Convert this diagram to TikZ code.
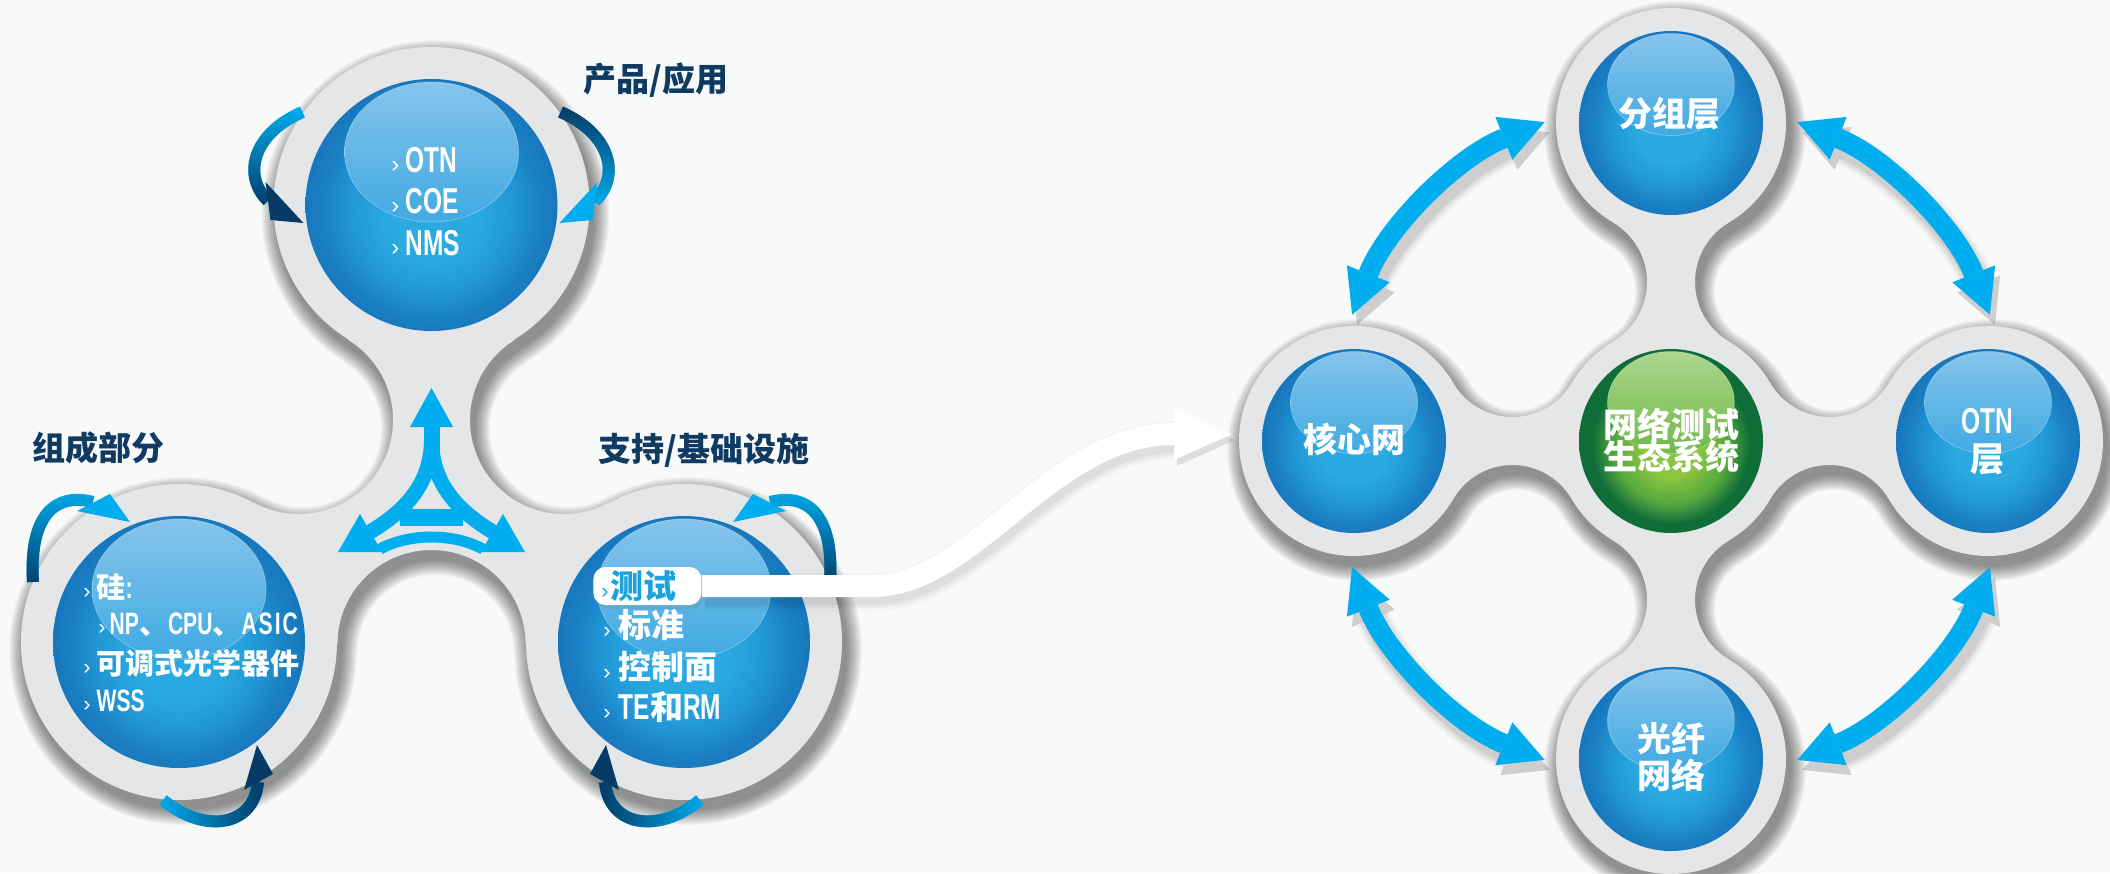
\documentclass[tikz,border=0pt]{standalone}
\usepackage{fontspec}
\newfontfamily\cjk{Noto Sans CJK SC}
\newfontfamily\cond{Liberation Sans}[UprightFont={* Bold}, BoldFont={* Bold}, FakeStretch=0.68]
\newfontfamily\chevf{Liberation Sans}
\usetikzlibrary{arrows.meta,fadings,shadows}

\definecolor{bgc}{HTML}{F8F9F9}
\definecolor{ringc}{HTML}{E5E6E8}
\definecolor{navyt}{HTML}{0F3A62}
\definecolor{cyanA}{HTML}{00AEEF}
\definecolor{navyA}{HTML}{053B66}
\definecolor{ballL}{HTML}{2AAAE1}
\definecolor{ballM}{HTML}{2196D5}
\definecolor{ballD}{HTML}{1A80C4}
\definecolor{ballE}{HTML}{1877BD}
\definecolor{grL}{HTML}{8CC540}
\definecolor{grM}{HTML}{55A83F}
\definecolor{grD}{HTML}{0F6D38}
\definecolor{hlT}{HTML}{86C4EB}
\definecolor{hlB}{HTML}{3FAAE2}
\definecolor{ghT}{HTML}{ADD68D}
\definecolor{ghB}{HTML}{6FB94A}
\definecolor{testc}{HTML}{1BA3DD}

\pgfdeclareradialshading{blueball}{\pgfpoint{0bp}{-2.5bp}}{color(0bp)=(ballL); color(9bp)=(ballL); color(16.5bp)=(ballM); color(21.5bp)=(ballD); color(25bp)=(ballE); color(32bp)=(ballE)}
\pgfdeclareradialshading{greenball}{\pgfpoint{0bp}{-3bp}}{color(0bp)=(grL); color(7.5bp)=(grL); color(15.5bp)=(grM); color(21.5bp)=(grD); color(32bp)=(grD)}

\newcommand{\zh}[2]{{\cjk\bfseries\fontsize{#1}{#1}\selectfont #2}}
\newcommand{\lat}[2]{{\cond\fontsize{#1}{#1}\selectfont #2}}
\newcommand{\chv}[1]{{\chevf\fontsize{#1}{#1}\selectfont ›}}

% left three-sphere blob, dilated by #1
\newcommand{\leftblob}[1]{%
 \begin{scope}[even odd rule]
  \clip (-100,100) rectangle (2300,-1000)
    (299,-420) circle[radius={94-#1}] (564,-420) circle[radius={94-#1}]
    (431.5,-644) circle[radius={94-#1}];
  \fill[nonzero rule] (431.5,-205) circle[radius={158+#1}] (179,-642) circle[radius={158+#1}]
    (684,-642) circle[radius={158+#1}]
    (431.5,-205) -- (299,-420) -- (179,-642) -- (431.5,-644) -- (684,-642) -- (564,-420) -- cycle;
 \end{scope}}
% right cross blob, dilated by #1
\newcommand{\rightblob}[1]{%
 \begin{scope}[even odd rule]
  \clip (900,100) rectangle (2300,-1000)
    (1512.5,-348.5) circle[radius={68.5-#1}] (1829.5,-348.5) circle[radius={68.5-#1}]
    (1512.5,-533.5) circle[radius={68.5-#1}] (1829.5,-533.5) circle[radius={68.5-#1}]
    (1578,-282) circle[radius={69-#1}] (1764,-282) circle[radius={69-#1}]
    (1578,-600) circle[radius={69-#1}] (1764,-600) circle[radius={69-#1}];
  \fill[nonzero rule] (1354,-441) circle[radius={115+#1}] (1671,-441) circle[radius={115+#1}]
    (1671,-123) circle[radius={115+#1}] (1988,-441) circle[radius={115+#1}]
    (1671,-759) circle[radius={115+#1}]
    (1354,-441) -- (1512.5,-533.5) -- (1671,-441) -- (1512.5,-348.5) -- cycle
    (1671,-123) -- (1578,-282) -- (1671,-441) -- (1764,-282) -- cycle
    (1988,-441) -- (1829.5,-348.5) -- (1671,-441) -- (1829.5,-533.5) -- cycle
    (1671,-759) -- (1764,-600) -- (1671,-441) -- (1578,-600) -- cycle;
 \end{scope}}

\tikzset{
 bball/.style={circle, inner sep=0pt, minimum size=#1, shading=blueball},
 gball/.style={circle, inner sep=0pt, minimum size=#1, shading=greenball},
 hlb/.style={top color=hlT, bottom color=hlB, draw=white, draw opacity=0.3, line width=0.4pt},
 hlg/.style={top color=ghT, bottom color=ghB, draw=white, draw opacity=0.3, line width=0.4pt},
 stxt/.style={text=white, inner sep=0pt, anchor=base west},
 rtxt/.style={text=white, inner sep=0pt, anchor=base, font={\cjk\bfseries\fontsize{17pt}{17pt}\selectfont}},
 lbl/.style={text=navyt, inner sep=0pt, anchor=base west, font={\cjk\bfseries\fontsize{16.5pt}{16.5pt}\selectfont}},
 pill/.style={fill=white, rounded corners=6pt, inner xsep=4pt, inner ysep=0pt, minimum height=19pt, text=testc,
   drop shadow={shadow xshift=1pt, shadow yshift=-2pt, opacity=0.2}},
 dbl/.style={draw=cyanA, line width=10pt, {Triangle[length=22pt,width=23pt,line width=0pt]}-{Triangle[length=22pt,width=23pt,line width=0pt]}},
 dblsh/.style={draw=black, line width=#1, {Triangle[length=22pt,width=23pt,line width=0pt]}-{Triangle[length=22pt,width=23pt,line width=0pt]}},
 rib/.style={line width=6pt},
}

\begin{document}
\begin{tikzpicture}[x=0.5pt, y=0.5pt]
\useasboundingbox (0,0) rectangle (2110,-873);
\fill[bgc] (0,0) rectangle (2110,-873);

% soft shadows of the two grey shapes
\foreach \d in {1,...,16}{
 \begin{scope}[shift={(4,-9)}, fill=black, fill opacity=0.03]
  \leftblob{\d}
  \rightblob{\d}
 \end{scope}}
\begin{scope}[fill=ringc]
 \leftblob{0}
 \rightblob{0}
\end{scope}

% spheres
\node[bball=126pt] (top) at (431.5,-205) {};
\node[bball=126pt] (bl) at (179,-642) {};
\node[bball=126pt] (br) at (684,-642) {};
\node[bball=92pt] (grp) at (1671,-123) {};
\node[bball=92pt] (core) at (1354,-441) {};
\node[gball=92pt] (eco) at (1671,-441) {};
\node[bball=92pt] (otn) at (1988,-441) {};
\node[bball=92pt] (fiber) at (1671,-759) {};

\foreach \n in {top,bl,br}{
 \shadedraw[hlb] ([yshift=26.5pt]\n.center) ellipse[x radius=87, y radius=70];}
\foreach \n in {grp,core,otn,fiber}{
 \shadedraw[hlb] ([yshift=19.25pt]\n.center) ellipse[x radius=63.5, y radius=51];}
\shadedraw[hlg] ([yshift=19.25pt]eco.center) ellipse[x radius=63.5, y radius=51];

% ribbons round the left spheres
\draw[rib, cyanA] (302.5,-112) .. controls (253.5,-133) and (241.5,-175) .. (268,-201);
\draw[rib, navyA, path fading=north] (302.5,-112) .. controls (253.5,-133) and (241.5,-175) .. (268,-201);
\fill[navyA] (303.5,-223) -- (265.5,-182) -- (270.5,-220) -- cycle;
\draw[rib, navyA] (560.5,-112) .. controls (609.5,-133) and (621.5,-175) .. (595,-201);
\draw[rib, cyanA, path fading=north] (560.5,-112) .. controls (609.5,-133) and (621.5,-175) .. (595,-201);
\fill[cyanA] (559.5,-223) -- (597.5,-182) -- (592.5,-220) -- cycle;

\draw[rib, cyanA] (33,-582) .. controls (29,-517) and (54,-492) .. (93,-502);
\draw[rib, navyA, path fading=north] (33,-582) .. controls (29,-517) and (54,-492) .. (93,-502);
\fill[cyanA] (130,-522) -- (110,-494) -- (77,-511) -- cycle;
\draw[rib, cyanA] (163,-800) .. controls (204,-834) and (254,-827) .. (258,-782);
\draw[rib, navyA, path fading=west] (163,-800) .. controls (204,-834) and (254,-827) .. (258,-782);
\fill[navyA] (257,-745) -- (244,-790) -- (273,-774) -- cycle;

\draw[rib, cyanA] (830,-582) .. controls (834,-517) and (809,-492) .. (770,-502);
\draw[rib, navyA, path fading=north] (830,-582) .. controls (834,-517) and (809,-492) .. (770,-502);
\fill[cyanA] (733,-522) -- (753,-494) -- (786,-511) -- cycle;
\draw[rib, cyanA] (700,-800) .. controls (659,-834) and (609,-827) .. (605,-782);
\draw[rib, navyA, path fading=east] (700,-800) .. controls (659,-834) and (609,-827) .. (605,-782);
\fill[navyA] (606,-745) -- (619,-790) -- (590,-774) -- cycle;

% three-way arrow
\begin{scope}[cyanA]
 \fill (431.5,-388) -- (410,-427) -- (453,-427) -- cycle;
 \draw[line width=8pt] (431.5,-426) -- (431.5,-462);
 \draw[line width=7.5pt] (431.5,-440) .. controls (431,-480) and (410,-508) .. (370,-532);
 \draw[line width=7.5pt] (431.5,-440) .. controls (432,-480) and (453,-508) .. (493,-532);
 \draw[line width=8.5pt] (400,-517) -- (463,-517);
 \draw[line width=5.5pt] (380,-549) .. controls (410,-533) and (453,-533) .. (483,-549);
 \fill (338,-552) -- (360,-514) -- (382,-552) -- cycle;
 \fill (525,-552) -- (503,-514) -- (481,-552) -- cycle;
\end{scope}

% headings
\node[lbl] (h1) at (583,-91.5) {产品/应用};
\node[lbl] (h2) at (32,-460.5) {组成部分};
\node[lbl] (h3) at (598,-461.5) {支持/基础设施};

% top sphere text
\node[stxt] (t1) at (391,-172) {\chv{12pt}\hspace{3pt}\lat{18pt}{OTN}};
\node[stxt] (t2) at (391,-213) {\chv{12pt}\hspace{3pt}\lat{18pt}{COE}};
\node[stxt] (t3) at (391,-255) {\chv{12pt}\hspace{3pt}\lat{18pt}{NMS}};

% bottom-left sphere text
\node[stxt] (l1) at (83,-598) {\chv{11pt}\hspace{3pt}\zh{14.5pt}{硅}\lat{15.5pt}{:}};
\node[stxt] (l2) at (98,-634) {\chv{11pt}\hspace{2pt}\lat{15.5pt}{NP}\zh{14.5pt}{、}\lat{15.5pt}{CPU}\zh{14.5pt}{、}\lat{15.5pt}{A\kern1pt S\kern1pt I\kern1pt C}};
\node[stxt] (l3) at (83,-674) {\chv{11pt}\hspace{3pt}\zh{14.5pt}{可调式光学器件}};
\node[stxt] (l4) at (83,-711) {\chv{11pt}\hspace{3pt}\lat{15.5pt}{WSS}};

% bottom-right sphere text
\node[stxt] (r2) at (603,-637) {\chv{11pt}\hspace{4pt}\zh{16.5pt}{标准}};
\node[stxt] (r3) at (603,-679) {\chv{11pt}\hspace{4pt}\zh{16.5pt}{控制面}};
\node[stxt] (r4) at (603,-719) {\chv{11pt}\hspace{4pt}\lat{18pt}{TE}\zh{16.5pt}{和}\lat{18pt}{RM}};

% right sphere labels
\node[rtxt] (g1) at (1669,-126.5) {分组层};
\node[rtxt] (c1) at (1354,-452.5) {核心网};
\node[rtxt] (e1) at (1671,-437.5) {网络测试};
\node[rtxt] (e2) at (1671,-469.5) {生态系统};
\node[text=white, inner sep=0pt, anchor=base] (o1) at (1987,-433) {\lat{18pt}{OTN}};
\node[rtxt] (o2) at (1987,-471) {层};
\node[rtxt] (f1) at (1671,-751.5) {光纤};
\node[rtxt] (f2) at (1671,-788.5) {网络};

% double arrows round the ecosystem sphere
\foreach \s/\e in {158.4/111.6, 68.4/21.6, 248.4/201.6, 338.4/291.6}{
 \foreach \w/\o in {17pt/0.04, 14pt/0.06, 11pt/0.08}{
  \draw[dblsh=\w, opacity=\o] ([shift={(\s:343)}, xshift=2.5pt, yshift=-5pt]eco.center)
     arc[start angle=\s, end angle=\e, radius=343];}
 \draw[dbl] ([shift={(\s:343)}]eco.center) arc[start angle=\s, end angle=\e, radius=343];}

% test pill and white arrow to the right shape
\node[pill, anchor=west] (test) at (593,-586) {\makebox[46pt][l]{\chv{11pt}\hspace{1pt}\zh{16.5pt}{测试}}};
\coordinate (bandend) at (1232,-434);
\foreach \w/\o in {19pt/0.025, 16pt/0.035, 13pt/0.05}{
 \draw[black, opacity=\o, line width=\w, -{Triangle[length=29pt,width=26pt,line width=0pt]}]
   ([xshift=1.5pt,yshift=-3pt]test.east) -- (875,-592) .. controls (978,-592) and (1053,-440) .. ([xshift=1.5pt,yshift=-3pt]bandend);}
\draw[white, line width=11pt, -{Triangle[length=29pt,width=26pt,line width=0pt]}]
   (test.east) -- (872,-586) .. controls (975,-586) and (1050,-434) .. (bandend);
\end{tikzpicture}
\end{document}
